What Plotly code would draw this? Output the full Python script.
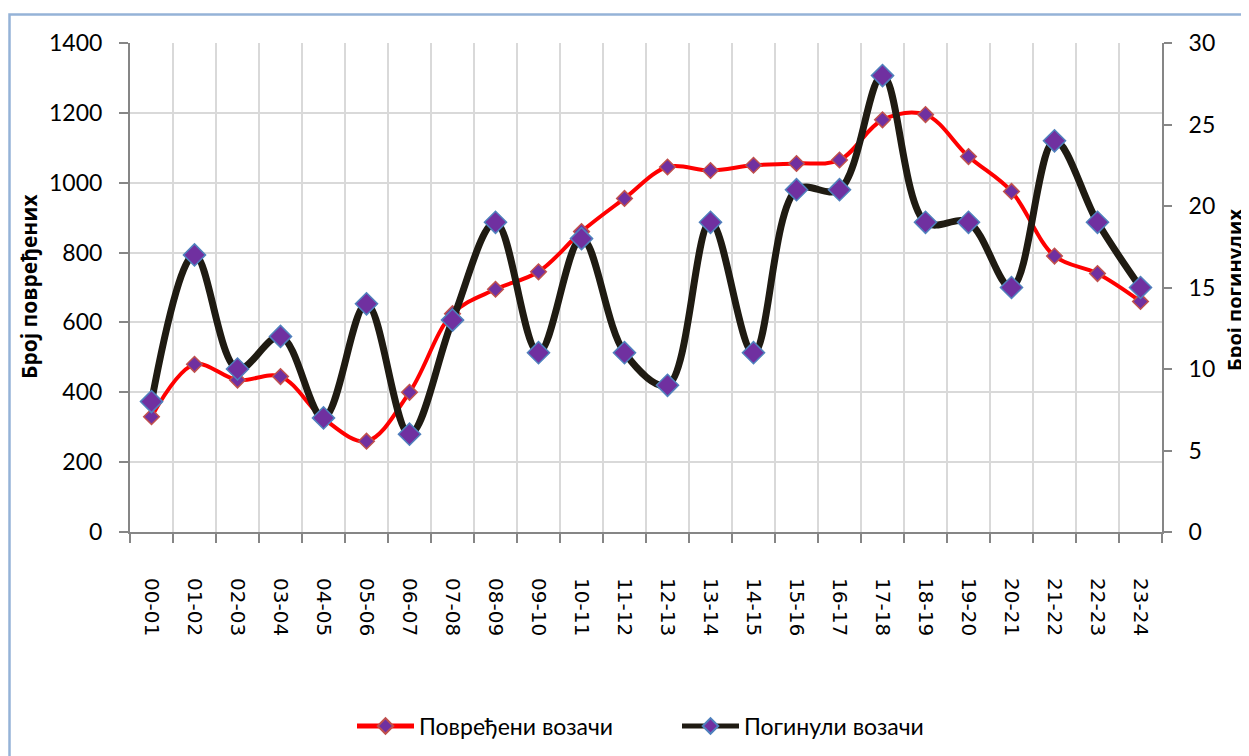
import plotly.graph_objects as go

categories = ["00-01", "01-02", "02-03", "03-04", "04-05", "05-06", "06-07", "07-08",
              "08-09", "09-10", "10-11", "11-12", "12-13", "13-14", "14-15", "15-16",
              "16-17", "17-18", "18-19", "19-20", "20-21", "21-22", "22-23", "23-24"]
injured = [330, 480, 435, 445, 325, 260, 400, 625, 695, 745, 860, 955,
           1045, 1035, 1050, 1055, 1065, 1180, 1195, 1075, 975, 790, 740, 660]
killed = [8, 17, 10, 12, 7, 14, 6, 13, 19, 11, 18, 11,
          9, 19, 11, 21, 21, 28, 19, 19, 15, 24, 19, 15]

left_ticks = [0, 200, 400, 600, 800, 1000, 1200, 1400]
right_ticks = [0, 5, 10, 15, 20, 25, 30]

# the page body adds an 8px margin; work in window pixels and convert
OFF = 8
WIN_W, WIN_H = 1249, 756
W, H = WIN_W - OFF, WIN_H - OFF
L, R, T, B = 130 - OFF, 1162 - OFF, 43 - OFF, 532 - OFF  # plot area in figure px

def px_x(p):
    return (p - OFF - L) / (R - L)

def px_y(p):
    return (B - (p - OFF)) / (B - T)

FONT = "Lato, 'Noto Sans', sans-serif"
TITLE_FONT = "'Open Sans', 'Noto Sans', sans-serif"

fig = go.Figure()
fig.add_trace(go.Scatter(
    x=categories, y=injured, name="Повређени возачи", mode="lines+markers",
    line=dict(color="#FF0000", width=4, shape="spline", smoothing=1),
    marker=dict(symbol="diamond", size=12, color="#7030A0",
                line=dict(color="#C0504D", width=1.5)),
    yaxis="y"))
fig.add_trace(go.Scatter(
    x=categories, y=killed, name="Погинули возачи", mode="lines+markers",
    line=dict(color="#1F1B12", width=7, shape="spline", smoothing=1),
    marker=dict(symbol="diamond", size=17, color="#7030A0",
                line=dict(color="#4F81BD", width=1.5)),
    yaxis="y2"))

axis_col = "#868686"
grid_col = "#D9D9D9"

fig.update_layout(
    width=W, height=H,
    paper_bgcolor="white", plot_bgcolor="white",
    margin=dict(l=L, r=W - R, t=T, b=H - B, autoexpand=False),
    font=dict(family=FONT, size=20, color="black"),
    xaxis=dict(
        type="category", categoryorder="array", categoryarray=categories,
        range=[-0.5, len(categories) - 0.5],
        tickson="boundaries", ticks="outside", ticklen=9, tickcolor=axis_col, tickwidth=1.5,
        showgrid=True, gridcolor=grid_col, gridwidth=1.5,
        showline=True, linecolor=axis_col, linewidth=2,
        tickangle=90, ticklabelstandoff=40,
        tickfont=dict(family="'DejaVu Sans', sans-serif", size=20, color="black"),
    ),
    yaxis=dict(
        range=[0, 1400], tickvals=left_ticks, ticktext=[str(v) for v in left_ticks],
        ticks="outside", ticklen=9, tickcolor=axis_col, tickwidth=1.5,
        showgrid=True, gridcolor=grid_col, gridwidth=1.5,
        showline=True, linecolor=axis_col, linewidth=2,
        zeroline=False, ticklabelstandoff=12,
        tickfont=dict(family=FONT, size=23, color="black"),
    ),
    yaxis2=dict(
        range=[0, 30], tickvals=right_ticks, ticktext=[str(v) for v in right_ticks],
        overlaying="y", side="right",
        ticks="outside", ticklen=8, tickcolor=axis_col, tickwidth=1.5,
        showgrid=False, showline=True, linecolor=axis_col, linewidth=2,
        zeroline=False, ticklabelstandoff=12,
        tickfont=dict(family=FONT, size=23, color="black"),
    ),
    showlegend=True,
    legend=dict(
        orientation="h", x=px_x(352), xanchor="left", y=px_y(726), yanchor="middle",
        font=dict(family=FONT, size=23, color="black"),
        bgcolor="rgba(0,0,0,0)", itemwidth=57, itemsizing="constant", tracegroupgap=0,
        entrywidth=253, entrywidthmode="pixels",
    ),
    annotations=[
        dict(text="<b>Број повређених</b>", textangle=-90, xref="paper", yref="paper",
             x=px_x(29), y=px_y(287), xanchor="center", yanchor="middle", showarrow=False,
             font=dict(family=TITLE_FONT, size=21, color="black")),
        dict(text="<b>Број погинулих</b>", textangle=-90, xref="paper", yref="paper",
             x=px_x(1234), y=px_y(290), xanchor="center", yanchor="middle", showarrow=False,
             font=dict(family=TITLE_FONT, size=20, color="black")),
    ],
    shapes=[
        dict(type="rect", xref="paper", yref="paper",
             x0=px_x(9.5), x1=px_x(1300), y0=px_y(800), y1=px_y(14.5),
             line=dict(color="#95B3D7", width=2.5), fillcolor="rgba(0,0,0,0)", layer="below"),
    ],
)

fig.write_html("out.html")
